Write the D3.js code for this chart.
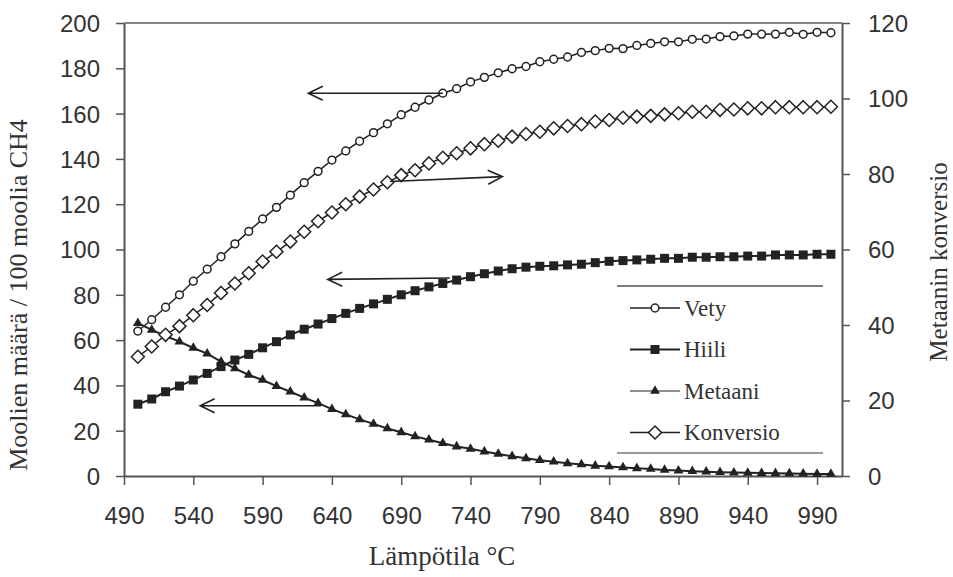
<!DOCTYPE html>
<html>
<head>
<meta charset="utf-8">
<script src="https://cdn.jsdelivr.net/npm/d3@7"></script>
<style>
  body { margin: 0; background: #fff; }
  text { fill: #333; }
</style>
</head>
<body>
<svg id="chart" width="953" height="577"></svg>
<script>
// temperatures (°C), one point every 10 degrees
var temps = d3.range(500, 1001, 10);
var xTicks = [490, 540, 590, 640, 690, 740, 790, 840, 890, 940, 990];
var leftTicks = [0, 20, 40, 60, 80, 100, 120, 140, 160, 180, 200];
var rightTicks = [0, 20, 40, 60, 80, 100, 120];

// left axis series (moles / 100 mol CH4)
var vety = [64, 69, 74.5, 80, 86, 91.3, 96.8, 102.5, 108, 113.5,
  118.6, 124, 129.5, 134.5, 139.5, 143.5, 147.8, 151.6, 155.5, 159.5,
  162.8, 166, 169, 171, 174, 176, 178, 179.8, 180.8, 182.9,
  184, 185, 187, 187.8, 188.8, 188.7, 190.1, 191, 191.7, 191.7,
  192.8, 192.9, 194, 194.3, 195.1, 195.1, 195.1, 195.9, 195, 195.9, 195.7];
var hiili = [31.7, 34, 37.2, 39.7, 42.4, 45.3, 48.3, 51.2, 53.7, 56.6,
  59.3, 62.3, 64.8, 67.1, 69.5, 71.8, 74, 76, 78, 80,
  81.8, 83.5, 85, 86.5, 88, 89.3, 90.5, 91.5, 92.2, 92.6,
  92.8, 93.2, 93.5, 94.2, 94.8, 95.1, 95.4, 95.7, 96.1, 96.1,
  96.6, 96.6, 96.8, 96.8, 97.1, 97.1, 97.6, 97.6, 97.6, 97.9, 97.9];
var metaani = [67.5, 64.5, 61.8, 59.3, 56.5, 54, 50.5, 47.5, 44.6, 42.4,
  39.7, 37.2, 34.6, 32.2, 29.5, 27.2, 25, 23, 21, 19.3,
  17.5, 16, 14.5, 13, 12, 10.8, 9.7, 8.7, 7.8, 7,
  6.3, 5.6, 5.1, 4.5, 4.2, 3.8, 3.4, 3.1, 2.7, 2.4,
  2.1, 1.9, 1.7, 1.5, 1.4, 1.3, 1.2, 1.1, 1.0, 0.9, 0.9];
// right axis series (conversion %)
var konversio = [31.6, 34.3, 37.4, 39.7, 42.6, 45.3, 48.5, 51, 53.7, 56.8,
  59.4, 62.1, 64.7, 67.5, 69.8, 72, 74, 75.9, 77.8, 79.7,
  81, 82.8, 84.3, 85.5, 86.8, 87.9, 88.8, 89.9, 90.6, 91.2,
  92.1, 92.7, 93.2, 93.9, 94.3, 94.9, 95.2, 95.4, 95.8, 96.1,
  96.5, 96.5, 97, 97.1, 97.4, 97.4, 97.7, 97.7, 97.7, 97.7, 97.8];

var legendNames = ["Vety", "Hiili", "Metaani", "Konversio"];

// arrows: [fromT, fromValue, toT, toValue, axis]
var arrows = [
  [720, 169, 623, 169, "left"],
  [682, 78, 763, 79.3, "right"],
  [725, 87.4, 637, 86.8, "left"],
  [632, 31, 545, 31, "left"]
];

drawChart();

function drawChart() {
  const mLeft = 124, mRight = 842, mTop = 23, mBottom = 476;
  const svg = d3.select("#chart");

  const x = d3.scaleLinear().domain([490, 1008]).range([mLeft, mRight]);
  const yL = d3.scaleLinear().domain([0, 200]).range([mBottom, mTop]);
  const yR = d3.scaleLinear().domain([0, 120]).range([mBottom, mTop]);

  const sans = "'Liberation Sans', Arial, sans-serif";
  const serif = "'Liberation Serif', 'Times New Roman', serif";

  // frame top line
  svg.append("line")
    .attr("x1", mLeft).attr("x2", mRight).attr("y1", mTop).attr("y2", mTop)
    .attr("stroke", "#888").attr("stroke-width", 2);

  // axes
  const gx = svg.append("g").attr("transform", `translate(0,${mBottom})`)
    .call(d3.axisBottom(x).tickValues(xTicks).tickSize(9).tickSizeOuter(0).tickPadding(22));
  const gl = svg.append("g").attr("transform", `translate(${mLeft},0)`)
    .call(d3.axisLeft(yL).tickValues(leftTicks).tickSize(8).tickSizeOuter(0).tickPadding(16));
  const gr = svg.append("g").attr("transform", `translate(${mRight},0)`)
    .call(d3.axisRight(yR).tickValues(rightTicks).tickSize(8).tickSizeOuter(0).tickPadding(18));

  [gx, gl, gr].forEach(g => {
    g.select(".domain").attr("stroke", "#555").attr("stroke-width", 2);
    g.selectAll(".tick line").attr("stroke", "#555").attr("stroke-width", 1.5);
    g.selectAll(".tick text").style("font-family", sans).style("font-size", "24px").attr("fill", "#333");
  });
  gl.selectAll(".tick text").attr("dy", "0.35em");
  gr.selectAll(".tick text").attr("dy", "0.35em");

  // axis titles
  svg.append("text")
    .attr("transform", "translate(27,295) rotate(-90)")
    .attr("text-anchor", "middle")
    .style("font-family", serif).style("font-size", "26px")
    .text("Moolien määrä / 100 moolia CH4");
  svg.append("text")
    .attr("transform", "translate(947,262) rotate(-90)")
    .attr("text-anchor", "middle")
    .style("font-family", serif).style("font-size", "25px")
    .text("Metaanin konversio");
  svg.append("text")
    .attr("x", 442).attr("y", 565)
    .attr("text-anchor", "middle")
    .style("font-family", serif).style("font-size", "27px")
    .text("Lämpötila °C");

  // marker drawing helper
  function drawMarker(g, kind) {
    if (kind === "circle") {
      g.append("circle").attr("r", 3.9).attr("fill", "#fff").attr("stroke", "#222").attr("stroke-width", 1.5);
    } else if (kind === "square") {
      g.append("rect").attr("x", -4.5).attr("y", -4.5).attr("width", 9).attr("height", 9).attr("fill", "#222");
    } else if (kind === "triangle") {
      g.append("path").attr("d", d3.symbol(d3.symbolTriangle, 42)()).attr("fill", "#222");
    } else {
      g.append("path").attr("d", "M0,-6.5L6.5,0L0,6.5L-6.5,0Z")
        .attr("fill", "#fff").attr("stroke", "#222").attr("stroke-width", 1.5);
    }
  }

  const series = [
    { vals: vety, y: yL, kind: "circle", w: 1.5 },
    { vals: hiili, y: yL, kind: "square", w: 2 },
    { vals: metaani, y: yL, kind: "triangle", w: 2 },
    { vals: konversio, y: yR, kind: "diamond", w: 1.5 }
  ];

  series.forEach(s => {
    const pts = temps.map((t, i) => [t, s.vals[i]]);
    svg.append("path")
      .datum(pts)
      .attr("fill", "none")
      .attr("stroke", "#222")
      .attr("stroke-width", s.w)
      .attr("d", d3.line().x(d => x(d[0])).y(d => s.y(d[1])));
    svg.append("g").selectAll("g")
      .data(pts)
      .join("g")
      .attr("transform", d => `translate(${x(d[0])},${s.y(d[1])})`)
      .each(function () { drawMarker(d3.select(this), s.kind); });
  });

  // arrows
  arrows.forEach(a => {
    const ys = a[4] === "left" ? yL : yR;
    const x1 = x(a[0]), y1 = ys(a[1]), x2 = x(a[2]), y2 = ys(a[3]);
    const ang = Math.atan2(y2 - y1, x2 - x1);
    const hl = 16, spread = 0.45;
    const p = d3.path();
    p.moveTo(x1, y1); p.lineTo(x2, y2);
    p.moveTo(x2 - hl * Math.cos(ang - spread), y2 - hl * Math.sin(ang - spread));
    p.lineTo(x2, y2);
    p.lineTo(x2 - hl * Math.cos(ang + spread), y2 - hl * Math.sin(ang + spread));
    svg.append("path").attr("d", p.toString())
      .attr("fill", "none").attr("stroke", "#222").attr("stroke-width", 1.6);
  });

  // legend (only top and bottom rules are visible)
  const lg = svg.append("g");
  lg.append("line").attr("x1", 617).attr("x2", 823).attr("y1", 286).attr("y2", 286)
    .attr("stroke", "#555").attr("stroke-width", 1.5);
  lg.append("line").attr("x1", 617).attr("x2", 823).attr("y1", 453).attr("y2", 453)
    .attr("stroke", "#777").attr("stroke-width", 1.5);
  const kinds = ["circle", "square", "triangle", "diamond"];
  legendNames.forEach((name, i) => {
    const yy = 308 + i * 41.5;
    const row = lg.append("g").attr("transform", `translate(0,${yy})`);
    row.append("line").attr("x1", 630).attr("x2", 680).attr("y1", 0).attr("y2", 0)
      .attr("stroke", "#222").attr("stroke-width", i === 2 ? 1.2 : series[i].w);
    drawMarker(row.append("g").attr("transform", "translate(655,0)"), kinds[i]);
    row.append("text").attr("x", 684).attr("y", 0).attr("dy", "0.33em")
      .style("font-family", serif).style("font-size", "23px")
      .text(name);
  });
}
</script>
</body>
</html>
